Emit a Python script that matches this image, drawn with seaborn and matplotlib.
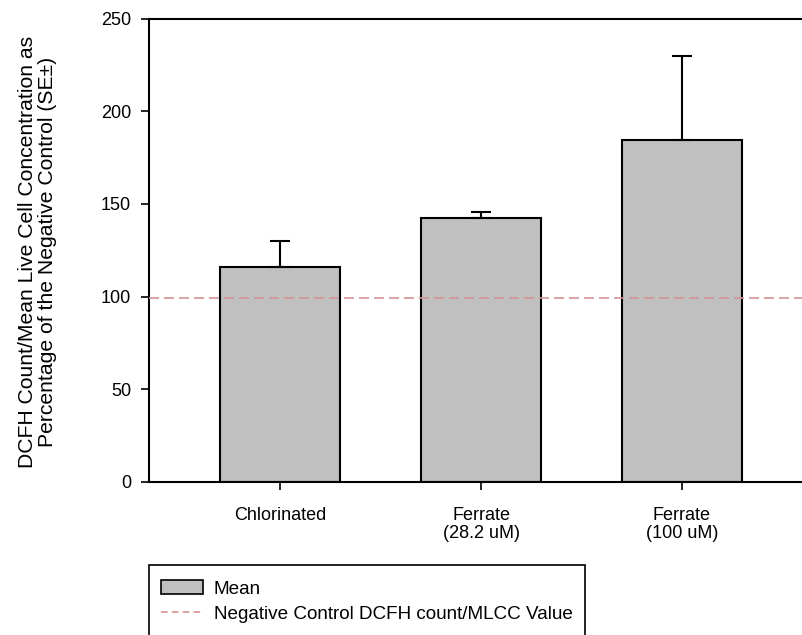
import matplotlib
matplotlib.use("Agg")
import matplotlib.pyplot as plt
import seaborn as sns
import pandas as pd
import numpy as np
from matplotlib.patches import Rectangle, Patch
from matplotlib.lines import Line2D

categories = ["Chlorinated", "Ferrate\n(28.2 uM)", "Ferrate\n(100 uM)"]
means = [115.7, 142.2, 184.2]
se_upper = [14.1, 3.3, 45.5]
negative_control = 99.0
y_ticks = [0, 50, 100, 150, 200, 250]

sns.set_theme(style="ticks")
plt.rcParams['font.family'] = ['Liberation Sans', 'DejaVu Sans']
plt.rcParams['text.color'] = 'black'
plt.rcParams['axes.labelcolor'] = 'black'

W, H = 803, 635
fig = plt.figure(figsize=(W / 100, H / 100), dpi=100)
ax = fig.add_axes([149 / W, 1 - 482 / H, (806 - 149) / W, (482 - 18.5) / H])

df = pd.DataFrame({"cat": categories, "mean": means})
sns.barplot(data=df, x="cat", y="mean", ax=ax, color="#c0c0c0", width=0.6,
            edgecolor="black", linewidth=1.5, saturation=1, errorbar=None)
xpos = np.arange(len(categories))
ax.errorbar(xpos, means, yerr=[np.zeros(len(means)), se_upper], fmt="none",
            ecolor="black", elinewidth=1.5, capsize=7, capthick=1.5, zorder=1)
ax.axhline(negative_control, color="#d69494", linestyle=(0, (6, 3)), linewidth=1.2, zorder=5)

ax.set_xlim(-0.652, 2.617)
ax.set_ylim(0, 250)
ax.set_yticks(y_ticks)
ax.tick_params(axis="both", direction="out", length=6, width=1.2, colors="black",
               labelsize=13)
ax.tick_params(axis="y", pad=7)
ax.tick_params(axis="x", pad=12)
for lbl in ax.get_xticklabels():
    lbl.set_linespacing(1.05)
for s in ["left", "bottom", "top"]:
    ax.spines[s].set_visible(True)
    ax.spines[s].set_linewidth(1.5)
    ax.spines[s].set_color("black")
ax.spines["right"].set_visible(False)
ax.set_xlabel("")
ax.set_ylabel("DCFH Count/Mean Live Cell Concentration as\nPercentage of the Negative Control (SE\u00b1)",
              fontsize=15.2, linespacing=1.08, color="black")
ax.yaxis.set_label_coords(-0.14, 0.497)

# legend
rect = Rectangle((149 / W, 1 - 700 / H), (585 - 149) / W, (700 - 565) / H,
                 transform=fig.transFigure, facecolor="white", edgecolor="black",
                 linewidth=1.2, zorder=10)
fig.patches.append(rect)
handles = [Patch(facecolor="#c0c0c0", edgecolor="black", linewidth=1.2),
           Line2D([0], [0], color="#d69494", linestyle=(0, (4, 2.5)), linewidth=1.2)]
leg = fig.legend(handles, ["Mean", "Negative Control DCFH count/MLCC Value"],
                 loc="upper left", bbox_to_anchor=(161 / W, 1 - 580 / H),
                 frameon=False, fontsize=13.6, handlelength=2.2, handleheight=0.75,
                 handletextpad=0.6, labelspacing=0.42, borderaxespad=0, borderpad=0,
                 labelcolor="black")
leg.set_zorder(11)

fig.savefig("out.png", dpi=100)
